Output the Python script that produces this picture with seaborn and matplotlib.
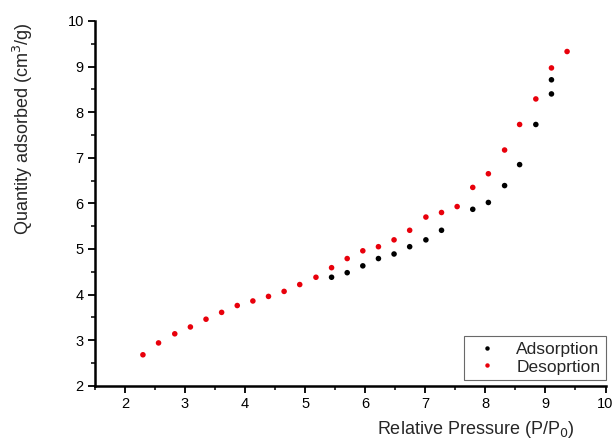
import matplotlib
matplotlib.use("Agg")
import matplotlib.pyplot as plt
import seaborn as sns
import pandas as pd
from matplotlib.ticker import MultipleLocator

# Isotherm readings
ads_p = [5.44, 5.70, 5.96, 6.22, 6.48, 6.74, 7.01, 7.27, 7.79, 8.05, 8.32, 8.57, 8.84, 9.10, 9.10]
ads_q = [4.38, 4.48, 4.63, 4.79, 4.89, 5.05, 5.20, 5.41, 5.87, 6.02, 6.39, 6.85, 7.73, 8.40, 8.71]

des_p = [2.30, 2.56, 2.83, 3.09, 3.35, 3.61, 3.87, 4.13, 4.39, 4.65, 4.91, 5.18, 5.44, 5.70,
         5.96, 6.22, 6.48, 6.74, 7.01, 7.27, 7.53, 7.79, 8.05, 8.32, 8.57, 8.84, 9.10, 9.36]
des_q = [2.68, 2.94, 3.14, 3.29, 3.46, 3.61, 3.76, 3.86, 3.96, 4.07, 4.22, 4.38, 4.59, 4.79,
         4.96, 5.05, 5.20, 5.41, 5.70, 5.80, 5.93, 6.35, 6.65, 7.17, 7.73, 8.29, 8.97, 9.33]

series_names = ["Adsorption", "Desoprtion"]

df = pd.DataFrame({
    "p": ads_p + des_p,
    "q": ads_q + des_q,
    "branch": [series_names[0]] * len(ads_p) + [series_names[1]] * len(des_p),
})

sns.set_theme(style="ticks")
plt.rcParams["font.family"] = ["Liberation Sans", "DejaVu Sans"]

fig = plt.figure(figsize=(6.16, 4.46), dpi=100)
ax = fig.add_axes([0.154, 0.135, 0.829, 0.818])

sns.scatterplot(data=df, x="p", y="q", hue="branch",
                palette={series_names[0]: "black", series_names[1]: "#e8000b"},
                s=16, linewidth=0, ax=ax)

ax.set_xlim(1.5, 10)
ax.set_ylim(2, 10)
ax.xaxis.set_major_locator(MultipleLocator(1))
ax.xaxis.set_minor_locator(MultipleLocator(0.5))
ax.yaxis.set_major_locator(MultipleLocator(1))
ax.yaxis.set_minor_locator(MultipleLocator(0.5))

for side in ("top", "right"):
    ax.spines[side].set_visible(False)
for side in ("left", "bottom"):
    ax.spines[side].set_linewidth(1.8)
    ax.spines[side].set_color("black")

ax.tick_params(which="major", direction="out", length=5, width=1.3, labelsize=10.5,
               colors="black", pad=3)
ax.tick_params(which="minor", direction="out", length=3, width=1.1, colors="black")

ax.set_xlabel("Relative Pressure (P/P$_0$)", fontsize=13)
ax.set_ylabel("Quantity adsorbed (cm$^3$/g)", fontsize=13)
ax.xaxis.set_label_coords(0.746, -0.092)
ax.yaxis.set_label_coords(-0.118, 0.705)

leg = ax.legend(loc="lower right", bbox_to_anchor=(1.0, 0.0165), borderaxespad=0,
                frameon=True, fontsize=12.5, markerscale=0.8, handlelength=2.0,
                handletextpad=0.7, borderpad=0.3, labelspacing=0.15, fancybox=False)
leg.get_frame().set_edgecolor("#444444")
leg.get_frame().set_linewidth(0.8)

fig.savefig("out.png", dpi=100)
